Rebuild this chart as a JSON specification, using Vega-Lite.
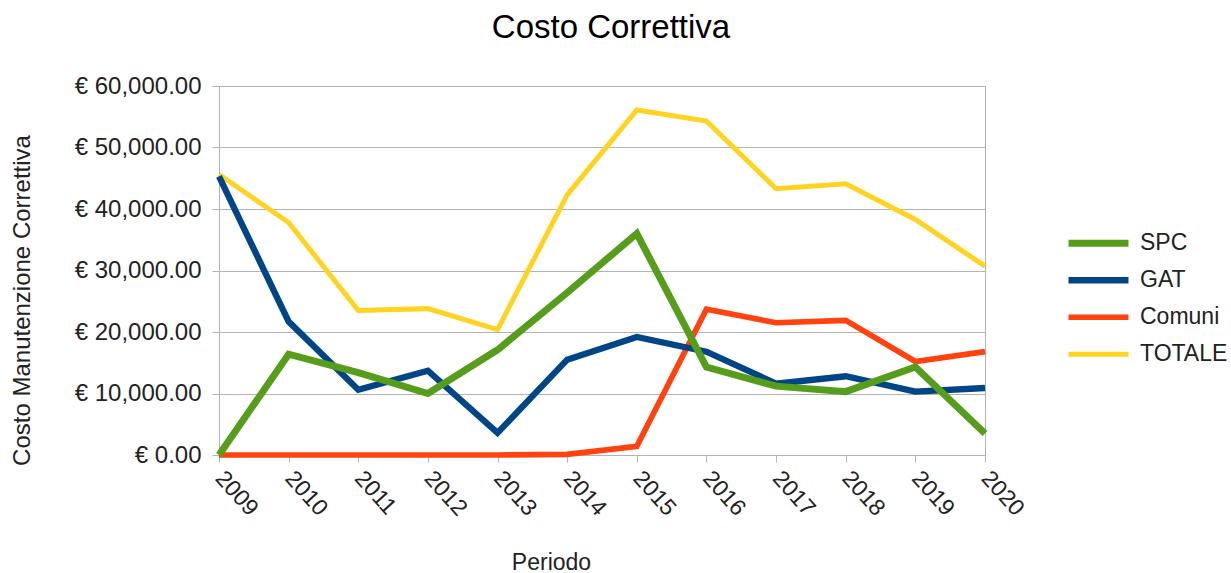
{
  "$schema": "https://vega.github.io/schema/vega-lite/v6.json",
  "autosize": "none",
  "width": 766,
  "height": 369,
  "padding": {"left": 219, "top": 86, "right": 246, "bottom": 118},
  "background": "white",
  "title": {
    "text": "Costo Correttiva",
    "font": "Liberation Sans",
    "fontSize": 33,
    "fontWeight": "normal",
    "color": "#000000",
    "anchor": "middle",
    "frame": "group",
    "baseline": "alphabetic",
    "offset": 3,
    "dx": 9
  },
  "config": {
    "view": {"stroke": "#b3b3b3", "strokeWidth": 1},
    "font": "Liberation Sans"
  },
  "data": {
    "values": [
      {"anno": "2009", "serie": "TOTALE", "valore": 45600},
      {"anno": "2010", "serie": "TOTALE", "valore": 37800},
      {"anno": "2011", "serie": "TOTALE", "valore": 23500},
      {"anno": "2012", "serie": "TOTALE", "valore": 23800},
      {"anno": "2013", "serie": "TOTALE", "valore": 20400},
      {"anno": "2014", "serie": "TOTALE", "valore": 42300},
      {"anno": "2015", "serie": "TOTALE", "valore": 56100},
      {"anno": "2016", "serie": "TOTALE", "valore": 54300},
      {"anno": "2017", "serie": "TOTALE", "valore": 43300},
      {"anno": "2018", "serie": "TOTALE", "valore": 44100},
      {"anno": "2019", "serie": "TOTALE", "valore": 38300},
      {"anno": "2020", "serie": "TOTALE", "valore": 30700},
      {"anno": "2009", "serie": "Comuni", "valore": 0},
      {"anno": "2010", "serie": "Comuni", "valore": 0},
      {"anno": "2011", "serie": "Comuni", "valore": 0},
      {"anno": "2012", "serie": "Comuni", "valore": 0},
      {"anno": "2013", "serie": "Comuni", "valore": 0},
      {"anno": "2014", "serie": "Comuni", "valore": 100},
      {"anno": "2015", "serie": "Comuni", "valore": 1400},
      {"anno": "2016", "serie": "Comuni", "valore": 23700},
      {"anno": "2017", "serie": "Comuni", "valore": 21500},
      {"anno": "2018", "serie": "Comuni", "valore": 21900},
      {"anno": "2019", "serie": "Comuni", "valore": 15200},
      {"anno": "2020", "serie": "Comuni", "valore": 16800},
      {"anno": "2009", "serie": "GAT", "valore": 45300},
      {"anno": "2010", "serie": "GAT", "valore": 21700},
      {"anno": "2011", "serie": "GAT", "valore": 10600},
      {"anno": "2012", "serie": "GAT", "valore": 13700},
      {"anno": "2013", "serie": "GAT", "valore": 3600},
      {"anno": "2014", "serie": "GAT", "valore": 15500},
      {"anno": "2015", "serie": "GAT", "valore": 19200},
      {"anno": "2016", "serie": "GAT", "valore": 16800},
      {"anno": "2017", "serie": "GAT", "valore": 11600},
      {"anno": "2018", "serie": "GAT", "valore": 12800},
      {"anno": "2019", "serie": "GAT", "valore": 10300},
      {"anno": "2020", "serie": "GAT", "valore": 10900},
      {"anno": "2009", "serie": "SPC", "valore": 0},
      {"anno": "2010", "serie": "SPC", "valore": 16400},
      {"anno": "2011", "serie": "SPC", "valore": 13400},
      {"anno": "2012", "serie": "SPC", "valore": 10000},
      {"anno": "2013", "serie": "SPC", "valore": 17100},
      {"anno": "2014", "serie": "SPC", "valore": 26400},
      {"anno": "2015", "serie": "SPC", "valore": 36000},
      {"anno": "2016", "serie": "SPC", "valore": 14300},
      {"anno": "2017", "serie": "SPC", "valore": 11200},
      {"anno": "2018", "serie": "SPC", "valore": 10300},
      {"anno": "2019", "serie": "SPC", "valore": 14300},
      {"anno": "2020", "serie": "SPC", "valore": 3500}
    ]
  },
  "mark": {"type": "line", "strokeJoin": "miter", "strokeCap": "butt"},
  "encoding": {
    "x": {
      "field": "anno",
      "type": "ordinal",
      "scale": {"type": "point", "padding": 0},
      "axis": {
        "title": "Periodo",
        "titleFont": "Liberation Sans",
        "titleFontSize": 23,
        "titleFontWeight": "normal",
        "titleColor": "#222222",
        "titleX": 332,
        "titleY": 107,
        "titleAlign": "center",
        "titleBaseline": "middle",
        "labelAngle": 48,
        "labelAlign": "left",
        "labelBaseline": "middle",
        "labelFont": "Liberation Sans",
        "labelFontSize": 23,
        "labelColor": "#222222",
        "labelPadding": 12,
        "tickColor": "#b3b3b3",
        "tickSize": 7,
        "domain": false,
        "grid": false
      }
    },
    "y": {
      "field": "valore",
      "type": "quantitative",
      "scale": {"domain": [0, 60000], "nice": false},
      "axis": {
        "title": "Costo Manutenzione Correttiva",
        "titleFont": "Liberation Sans",
        "titleFontSize": 24,
        "titleFontWeight": "normal",
        "titleColor": "#222222",
        "titleAngle": 270,
        "titleX": -197,
        "titleY": 214,
        "titleAlign": "center",
        "titleBaseline": "middle",
        "values": [0, 10000, 20000, 30000, 40000, 50000, 60000],
        "labelExpr": "'€ ' + format(datum.value, ',.2f')",
        "labelFont": "Liberation Sans",
        "labelFontSize": 24,
        "labelColor": "#222222",
        "labelPadding": 11,
        "tickColor": "#b3b3b3",
        "tickSize": 7,
        "domain": false,
        "grid": true,
        "gridColor": "#b3b3b3",
        "gridWidth": 1
      }
    },
    "strokeWidth": {
      "field": "serie",
      "type": "nominal",
      "scale": {
        "domain": ["SPC", "GAT", "Comuni", "TOTALE"],
        "range": [7, 5, 5, 5]
      },
      "legend": null
    },
    "color": {
      "field": "serie",
      "type": "nominal",
      "scale": {
        "domain": ["SPC", "GAT", "Comuni", "TOTALE"],
        "range": ["#579d1c", "#004586", "#ff420e", "#ffd320"]
      },
      "legend": {
        "title": null,
        "orient": "none",
        "legendX": 846,
        "legendY": 139,
        "symbolType": "stroke",
        "symbolSize": 3600,
        "symbolStrokeWidth": 6,
        "clipHeight": 36.5,
        "rowPadding": 0,
        "labelOffset": 8,
        "labelFont": "Liberation Sans",
        "labelFontSize": 23,
        "labelColor": "#222222"
      }
    }
  }
}
